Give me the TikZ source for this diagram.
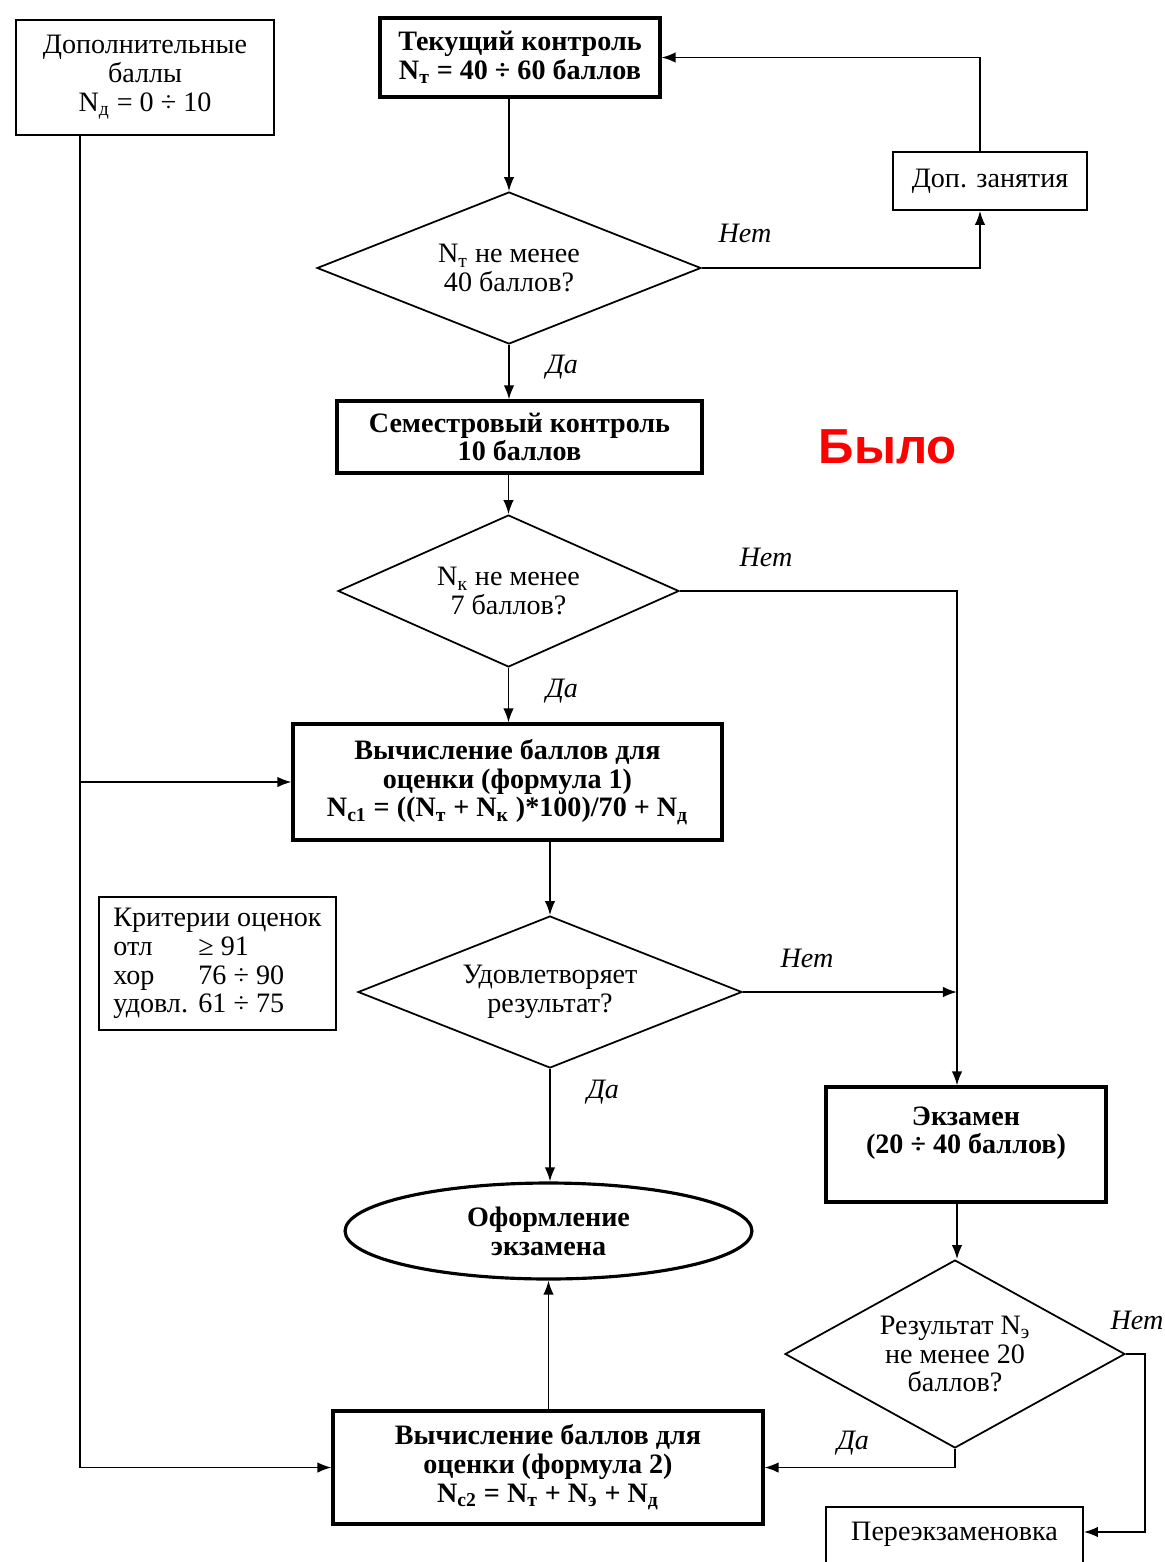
\documentclass[tikz,border=0pt]{standalone}
\usepackage{fontspec}
\setmainfont{Liberation Serif}
\newfontfamily\wasfont{Liberation Sans}
\usetikzlibrary{shapes.geometric,arrows.meta}
\begin{document}
\begin{tikzpicture}[x=0.02cm,y=-0.02cm,
    font=\fontsize{16}{16.4}\selectfont,
    box/.style={draw,line width=1pt,align=center,inner sep=0pt},
    thickbox/.style={box,line width=1.8pt,font=\fontsize{16}{16.4}\selectfont\bfseries},
    decision/.style={draw,diamond,aspect=2.5,line width=1pt,align=center,inner sep=0pt},
    answer/.style={font=\fontsize{16}{16.4}\selectfont\itshape},
    arr/.style={line width=1pt,-{Latex[length=8pt,width=6pt]}}]
      \useasboundingbox (0,0) rectangle (1164,1562);
      \clip (0,0) rectangle (1164,1562);
      \node[box,minimum width=5.16cm,minimum height=2.3cm] (dop) at (145,77.5)
        {Дополнительные\\баллы\\N\textsubscript{д} = 0 ÷ 10};
      \node[thickbox,minimum width=5.6cm,minimum height=1.58cm] (tek) at (520,57.5)
        {Текущий контроль\\N\textsubscript{т} = 40 ÷ 60 баллов};
      \node[box,minimum width=3.88cm,minimum height=1.16cm] (zan) at (990,181) {Доп. занятия};
      \node[decision,minimum width=7.68cm,minimum height=3.04cm] (q1) at (509,268)
        {N\textsubscript{т} не менее\\40 баллов?};
      \node[thickbox,minimum width=7.3cm,minimum height=1.44cm] (sem) at (519.5,437)
        {Семестровый контроль\\10 баллов};
      \node[text=red,font=\wasfont\bfseries\fontsize{28}{32}\selectfont] (was) at (888,447) {Было};
      \node[decision,minimum width=6.82cm,minimum height=3.04cm] (q2) at (508.5,591)
        {N\textsubscript{к} не менее\\7 баллов?};
      \node[thickbox,minimum width=8.58cm,minimum height=2.32cm] (f1) at (507.5,782)
        {Вычисление баллов для\\оценки (формула 1)\\N\textsubscript{c1} = ((N\textsubscript{т} + N\textsubscript{к} )*100)/70 + N\textsubscript{д}};
      \node[box,align=left,minimum width=4.74cm,minimum height=2.66cm] (krit) at (217.5,963.5)
        {Критерии оценок\\\makebox[1.7cm][l]{отл}≥ 91\\\makebox[1.7cm][l]{хор}76 ÷ 90\\\makebox[1.7cm][l]{удовл.}61 ÷ 75};
      \node[decision,minimum width=7.68cm,minimum height=3.04cm] (q3) at (550,992)
        {Удовлетворяет\\результат?};
      \node[thickbox,ellipse,minimum width=8.14cm,minimum height=1.92cm] (ofo) at (548.5,1231)
        {Оформление\\экзамена};
      \node[thickbox,minimum width=5.6cm,minimum height=2.3cm] (ekz) at (966,1144.5)
        {Экзамен\\(20 ÷ 40 баллов)\\\mbox{}};
      \node[decision,aspect=1.8,minimum width=6.8cm,minimum height=3.76cm] (q4) at (955,1354)
        {Результат N\textsubscript{э}\\не менее 20\\баллов?};
      \node[thickbox,minimum width=8.6cm,minimum height=2.26cm] (f2) at (548,1467.5)
        {Вычисление баллов для\\оценки (формула 2)\\N\textsubscript{c2} = N\textsubscript{т} + N\textsubscript{э} + N\textsubscript{д}};
      \node[box,minimum width=5.14cm,minimum height=1.54cm] (per) at (954.5,1545.5)
        {Переэкзаменовка\\\mbox{}};
      % answers
      \node[answer] (no1) at (745,233) {Нет};
      \node[answer] (yes1) at (562,367) {Да};
      \node[answer] (no2) at (766,557) {Нет};
      \node[answer] (yes2) at (562,691) {Да};
      \node[answer] (no3) at (807,958) {Нет};
      \node[answer] (yes3) at (603,1092) {Да};
      \node[answer] (no4) at (1137,1320) {Нет};
      \node[answer] (yes4) at (853,1443) {Да};
      % bends
      \coordinate (back) at (980,58);
      \coordinate (exam) at (957,591);
      \coordinate (extra) at (80,1467.5);
      \coordinate (again) at (1145,1354);
      \coordinate (againend) at (1145,1532);
      \begin{scope}[arr]
        \draw (q1.north |- tek.south) to (q1.north);
        \draw (q1.east) -| (zan.south -| back);
        \draw (zan.north -| back) |- (tek.east);
        \draw (q1.south) to (q1.south |- sem.north);
        \draw (sem.south -| q2.north) to (q2.north);
        \draw (q2.east) -| (ekz.north -| exam);
        \draw (q2.south) to (q2.south |- f1.north);
        \draw (f1.south -| q3.north) to (q3.north);
        \draw (q3.east) to (q3.east -| exam);
        \draw (q3.south) to (q3.south |- ofo.north);
        \draw (f2.north -| ofo.south) to (ofo.south);
        \draw (dop.south -| extra) |- (f2.west);
        \draw (extra |- f1.west) to (f1.west);
        \draw (ekz.south -| exam) to (q4.north -| exam);
        \draw (q4.south) |- (f2.east);
        \draw (q4.east) -- (again) -- (againend) to (againend -| per.east);
      \end{scope}
    \end{tikzpicture}
\end{document}
